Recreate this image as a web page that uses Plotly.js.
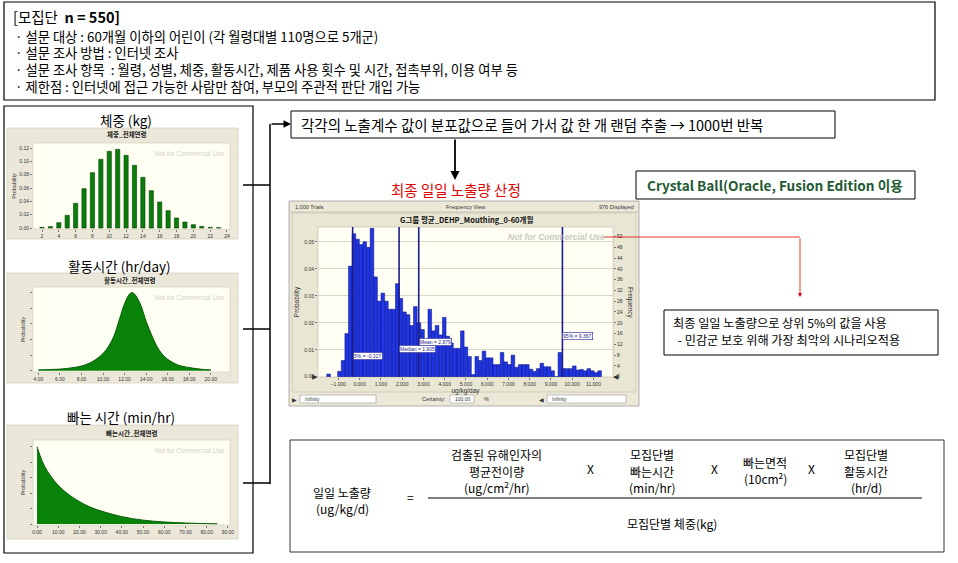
<!DOCTYPE html>
<html><head><meta charset="utf-8">
<script src="https://cdn.plot.ly/plotly-3.0.1.min.js"></script>
<style>html,body{margin:0;padding:0;background:#fff;}#chart{width:958px;height:563px;}</style>
</head><body><div id="chart"></div>
<script>
// ---------------- DATA ----------------
const weightKg   = [2,3,4,5,6,7,8,9,10,11,12,13,14,15,16,17,18,19,20,21,22,23];
const weightProb = [0.001,0.002,0.008,0.019,0.037,0.059,0.083,0.103,0.115,0.118,0.109,0.094,0.076,0.056,0.039,0.026,0.015,0.009,0.005,0.0025,0.001,0.0005];

const activityHr   = [4,5,6,7,8,9,10,10.5,11,11.5,12,12.5,12.75,13,13.5,14,14.5,15,15.5,16,17,18,19,20];
const activityDens = [0.01,0.015,0.02,0.035,0.06,0.115,0.22,0.31,0.44,0.65,0.86,0.99,1.0,0.97,0.84,0.63,0.46,0.31,0.21,0.145,0.07,0.04,0.02,0.01];

const suckMin  = [0,2.5,5,10,15,20,25,30,40,50,60,70,80,85];
const suckDens = [1.0,0.81,0.68,0.50,0.38,0.29,0.22,0.17,0.095,0.05,0.026,0.013,0.005,0.002];

const exposureBin = [-1.46,-0.95,-0.78,-0.61,-0.44,-0.27,-0.10,0.07,0.24,0.41,0.58,0.75,0.92,1.09,1.26,1.43,1.60,1.77,1.94,2.11,2.28,2.45,2.62,2.79,2.96,3.13,3.30,3.47,3.64,3.81,3.98,4.15,4.32,4.49,4.66,4.83,5.00,5.17,5.34,5.51,5.68,5.85,6.02,6.19,6.36,6.53,6.70,6.87,7.04,7.21,7.38,7.55,7.72,7.89,8.06,8.23,8.40,8.57,8.74,8.91,9.08,9.25,9.42,9.59,9.76,9.93,10.10,10.27,10.44,10.61,10.78,10.95,11.12,11.29];
const exposureProb = [0.001,0.002,0.006,0.016,0.041,0.053,0.051,0.049,0.050,0.048,0.055,0.037,0.028,0.031,0.028,0.025,0.025,0.0345,0.029,0.024,0.023,0.019,0.026,0.020,0.0175,0.0135,0.025,0.017,0.019,0.0155,0.022,0.015,0.0125,0.0105,0.0105,0.017,0.011,0.0075,0.0008,0.0075,0.006,0.0095,0.007,0.007,0.0045,0.0045,0.009,0.0055,0.0045,0.008,0.0035,0.0045,0.0045,0.0045,0.0028,0.002,0.003,0.005,0.0037,0.0037,0.0022,0,0.009,0.003,0.003,0.003,0.004,0.0025,0.0027,0.0022,0.003,0.0022,0.0015,0.0022];

const pctValues = [-0.33, 1.855, 2.78, 9.54];
const pctLabels = ['5% = -0.327', 'Median = 1.905', 'Mean = 2.879', '95% = 9.367'];

// ---------------- LAYOUT HELPERS ----------------
const W = 958, H = 563;
const px = x => x / W;
const py = y => 1 - y / H;
const KR = 'Noto Sans CJK KR, Noto Sans, sans-serif';
const UI = 'Liberation Sans, Arial, sans-serif';
const shapes = [];
const ann = [];
function rect(x0, y0, x1, y1, o) {
  o = o || {};
  shapes.push({type:'rect', xref:'paper', yref:'paper', x0:px(x0), x1:px(x1), y0:py(y1), y1:py(y0),
    line:{color:o.line || '#000', width:(o.lw === undefined ? 1 : o.lw)}, fillcolor:o.fill || 'rgba(0,0,0,0)', layer:o.layer || 'above'});
}
function seg(x0, y0, x1, y1, color, w) {
  shapes.push({type:'line', xref:'paper', yref:'paper', x0:px(x0), x1:px(x1), y0:py(y0), y1:py(y1),
    line:{color:color || '#000', width:w || 1}, layer:'above'});
}
function txt(x, y, t, o) {
  o = o || {};
  ann.push({xref:'paper', yref:'paper', x:px(x), y:py(y), text:t, showarrow:false,
    xanchor:o.xa || 'center', yanchor:'middle', textangle:o.angle || 0,
    font:{family:o.family || KR, size:o.size || 12, color:o.color || '#000'}});
}
function arrow(x0, y0, x1, y1, color, w) {
  ann.push({xref:'paper', yref:'paper', x:px(x1), y:py(y1), ax:x0 - x1, ay:y0 - y1, text:'',
    showarrow:true, arrowhead:2, arrowsize:1, arrowwidth:w || 1.5, arrowcolor:color || '#000', standoff:0});
}

// ---------------- FRAMES ----------------
rect(4, 2, 935, 100, {lw:1.2});
rect(4, 106, 253, 553, {lw:1.2});
const panels = [[128,239,143,229],[273,383,287,372],[425,539,440,525]];
panels.forEach(p => {
  rect(7, p[0], 238, p[1], {fill:'#ebe8d9', line:'#d6d2be', lw:0.8, layer:'below'});
  rect(33, p[2], 230, p[3], {fill:'#fffff3', line:'#cfcbb6', lw:0.6, layer:'below'});
});
rect(289, 201, 639, 406, {fill:'#ece9d8', line:'#9c9c9c', lw:0.8, layer:'below'});
seg(289, 212, 639, 212, '#b8b4a2', 0.6);
rect(292, 213, 636, 392, {fill:'#e9e6d4', line:'#c4c0ac', lw:0.6, layer:'below'});
rect(318, 227, 613, 377, {fill:'#fffff3', line:'#bdb9a4', lw:0.6, layer:'below'});
rect(300, 395, 376, 403, {fill:'#ffffff', line:'#9a9a9a', lw:0.6});
rect(450, 395, 474, 403, {fill:'#ffffff', line:'#9a9a9a', lw:0.6});
rect(547, 395, 626, 403, {fill:'#ffffff', line:'#9a9a9a', lw:0.6});

seg(243, 185, 270, 185, '#000', 1.5);
seg(243, 329, 270, 329, '#000', 1.5);
seg(243, 483, 270, 483, '#000', 1.5);
seg(270, 124, 270, 484, '#000', 1.5);
arrow(270, 124, 291, 124, '#000', 1.5);
rect(291, 111, 835, 138, {lw:1});
arrow(455, 138, 455, 180, '#000', 1.8);
rect(636, 171, 915, 199, {lw:1});
rect(664, 310, 938, 355, {lw:1});
seg(604, 237, 800, 237, '#e00000', 0.8);
arrow(800, 237, 800, 297, '#e00000', 0.8);
rect(290, 440, 944, 552, {lw:1, line:'#333'});
seg(428, 498, 922, 498, '#000', 1);

// ---------------- TEXT ----------------
txt(11, 17, '[모집단\u00a0 <b>n = 550]</b>', {xa:'left', size:14.5});
const bullets = ['설문 대상 : 60개월 이하의 어린이 (각 월령대별 110명으로 5개군)',
  '설문 조사 방법 : 인터넷 조사',
  '설문 조사 항목\u00a0 : 월령, 성별, 체중, 활동시간, 제품 사용 횟수 및 시간, 접촉부위, 이용 여부 등',
  '제한점 : 인터넷에 접근 가능한 사람만 참여, 부모의 주관적 판단 개입 가능'];
[36, 52, 69, 86].forEach((y, i) => txt(13, y, '· ' + bullets[i], {xa:'left', size:13.3}));

txt(126, 120, '체중 (kg)', {size:13.5});
txt(119, 266, '활동시간 (hr/day)', {size:13.5});
txt(121, 417, '빠는 시간 (min/hr)', {size:13.5});
txt(127, 134, '<b>체중_전체연령</b>', {size:6.5, color:'#222'});
txt(130, 280, '<b>활동시간_전체연령</b>', {size:6.5, color:'#222'});
txt(132, 433, '<b>빠는시간_전체연령</b>', {size:6.5, color:'#222'});
[153, 297, 450].forEach(y => txt(190, y, 'Not for Commercial Use', {size:6.5, family:UI, color:'#d4d2c6'}));

txt(299, 124, '각각의 노출계수 값이 분포값으로 들어 가서 값 한 개 랜덤 추출 → 1000번 반복', {xa:'left', size:14.5});
txt(456, 190, '최종 일일 노출량 산정', {size:14.5, color:'#e00000'});
txt(645, 185, '<b>Crystal Ball(Oracle, Fusion Edition 이용</b>', {xa:'left', size:13.6, color:'#1f5a33'});
txt(671, 323, '최종 일일 노출량으로 상위 5%의 값을 사용', {xa:'left', size:12.2});
txt(673, 340, ' - 민감군 보호 위해 가장 최악의 시나리오적용', {xa:'left', size:12.2});

txt(293, 207, '1,000 Trials', {xa:'left', size:5.5, family:UI, color:'#333'});
txt(465, 207, 'Frequency View', {size:5.5, family:UI, color:'#333'});
txt(636, 207, '976 Displayed', {xa:'right', size:5.5, family:UI, color:'#333'});
txt(466, 219, '<b>G그룹 평균_DEHP_Mouthing_0-60개월</b>', {size:7.5, color:'#111'});
txt(556, 237, '<b><i>Not for Commercial Use</i></b>', {size:8.5, family:UI, color:'#c9c9c4'});
txt(630, 302, 'Frequency', {size:6.5, family:UI, color:'#333', angle:90});
txt(315, 377, '▶', {size:7, family:'DejaVu Sans', color:'#333'});
txt(616, 377, '◀', {size:7, family:'DejaVu Sans', color:'#333'});
txt(294, 399, '▶', {size:6, family:'DejaVu Sans', color:'#333'});
txt(303, 399, 'Infinity', {xa:'left', size:5, family:UI, color:'#333'});
txt(448, 399, 'Certainty:', {xa:'right', size:5.5, family:UI, color:'#333'});
txt(453, 399, '100.00', {xa:'left', size:5, family:UI, color:'#333'});
txt(486, 399, '%', {size:5.5, family:UI, color:'#333'});
txt(541, 399, '◀', {size:6, family:'DejaVu Sans', color:'#333'});
txt(550, 399, 'Infinity', {xa:'left', size:5, family:UI, color:'#333'});

txt(342, 492, '일일 노출량', {size:12});
txt(342, 508, '(ug/kg/d)', {size:12});
txt(410, 496, '=', {size:12});
txt(497, 455, '검출된 유해인자의', {size:12});
txt(497, 471, '평균전이량', {size:12});
txt(497, 487, '(ug/cm<sup>2</sup>/hr)', {size:12});
txt(590, 468, 'X', {size:12});
txt(652, 455, '모집단별', {size:12});
txt(652, 471, '빠는시간', {size:12});
txt(652, 487, '(min/hr)', {size:12});
txt(714, 468, 'X', {size:12});
txt(765, 462, '빠는면적', {size:12});
txt(765, 478, '(10cm<sup>2</sup>)', {size:12});
txt(811, 468, 'X', {size:12});
txt(866, 455, '모집단별', {size:12});
txt(866, 471, '활동시간', {size:12});
txt(866, 487, '(hr/d)', {size:12});
txt(672, 523, '모집단별 체중(kg)', {size:12});

const pctLabelY = [0.0077, 0.0102, 0.0128, 0.0150];
pctValues.forEach((v, i) => {
  shapes.push({type:'line', xref:'x4', yref:'y4', x0:v, x1:v, y0:0, y1:0.0555,
    line:{color:'#1c1c8e', width:1.6}, layer:'above'});
  ann.push({xref:'x4', yref:'y4', x:v, y:pctLabelY[i], text:pctLabels[i], showarrow:false,
    xanchor:'left', yanchor:'middle', font:{family:UI, size:5, color:'#1c1c8e'},
    bgcolor:'#ffffff', bordercolor:'#1c1c8e', borderwidth:0.6, borderpad:0.5});
});

// ---------------- AXES ----------------
const small = {family:UI, size:5, color:'#333'};
function ax(extra) {
  return Object.assign({showgrid:false, zeroline:false, showline:false, ticks:'outside', ticklen:2,
    tickcolor:'#777', tickfont:small, fixedrange:true}, extra);
}
const layout = {
  width:W, height:H, margin:{l:0, r:0, t:0, b:0},
  paper_bgcolor:'#ffffff', plot_bgcolor:'rgba(0,0,0,0)', showlegend:false,
  font:{family:KR},
  xaxis:  ax({domain:[px(33), px(230)], anchor:'y', range:[0.93, 24.36], tick0:2, dtick:2}),
  yaxis:  ax({domain:[py(229), py(143)], anchor:'x', range:[-0.0015, 0.1275], dtick:0.02, tickformat:'.2f',
              title:{text:'Probability', font:{family:UI, size:5.5, color:'#333'}, standoff:2}}),
  xaxis2: ax({domain:[px(33), px(227)], anchor:'y2', range:[3.5, 21.5], tick0:4, dtick:2, tickformat:'.2f'}),
  yaxis2: ax({domain:[py(372), py(287)], anchor:'x2', range:[-0.017, 1.073], dtick:0.2, showticklabels:false,
              title:{text:'Probability', font:{family:UI, size:5.5, color:'#333'}, standoff:4}}),
  xaxis3: ax({domain:[px(33), px(230)], anchor:'y3', range:[-1.9, 91], tick0:0, dtick:10, tickformat:'.2f'}),
  yaxis3: ax({domain:[py(525), py(440)], anchor:'x3', range:[-0.013, 1.087], dtick:0.2, showticklabels:false,
              title:{text:'Probability', font:{family:UI, size:5.5, color:'#333'}, standoff:4}}),
  xaxis4: ax({domain:[px(318), px(613)], anchor:'y4', range:[-1.96, 11.92], tick0:-1, dtick:1, tickformat:'.3f',
              title:{text:'ug/kg/day', font:{family:UI, size:6.5, color:'#333'}, standoff:1}}),
  yaxis4: ax({domain:[py(377), py(227)], anchor:'x4', range:[-0.0001, 0.0555], dtick:0.01, tickformat:'.2f',
              showgrid:true, gridcolor:'#cfcdbf', gridwidth:0.8,
              title:{text:'Probability', font:{family:UI, size:6.5, color:'#333'}, standoff:3}}),
  yaxis5: ax({overlaying:'y4', side:'right', anchor:'x4', range:[-0.1, 55.5], tick0:0, dtick:4}),
  shapes:shapes, annotations:ann
};

// ---------------- TRACES ----------------
const traces = [
  {type:'bar', x:weightKg, y:weightProb, xaxis:'x', yaxis:'y', width:0.5,
   marker:{color:'#0a7d0a', line:{color:'#053d05', width:0.6}}, hoverinfo:'skip'},
  {type:'scatter', mode:'lines', x:activityHr, y:activityDens, xaxis:'x2', yaxis:'y2',
   fill:'tozeroy', fillcolor:'#088208', line:{color:'#0a5c0a', width:1, shape:'spline'}, hoverinfo:'skip'},
  {type:'scatter', mode:'lines', x:suckMin, y:suckDens, xaxis:'x3', yaxis:'y3',
   fill:'tozeroy', fillcolor:'#088208', line:{color:'#0a5c0a', width:1, shape:'spline'}, hoverinfo:'skip'},
  {type:'bar', x:exposureBin, y:exposureProb, xaxis:'x4', yaxis:'y4', width:0.17,
   marker:{color:'#1f36e4', line:{color:'#0c0c78', width:0.5}}, hoverinfo:'skip'},
  {type:'scatter', mode:'markers', x:[exposureBin[0]], y:[0], xaxis:'x4', yaxis:'y5',
   marker:{opacity:0}, hoverinfo:'skip'}
];

Plotly.newPlot('chart', traces, layout, {displayModeBar:false, staticPlot:true});
</script>
</body></html>
